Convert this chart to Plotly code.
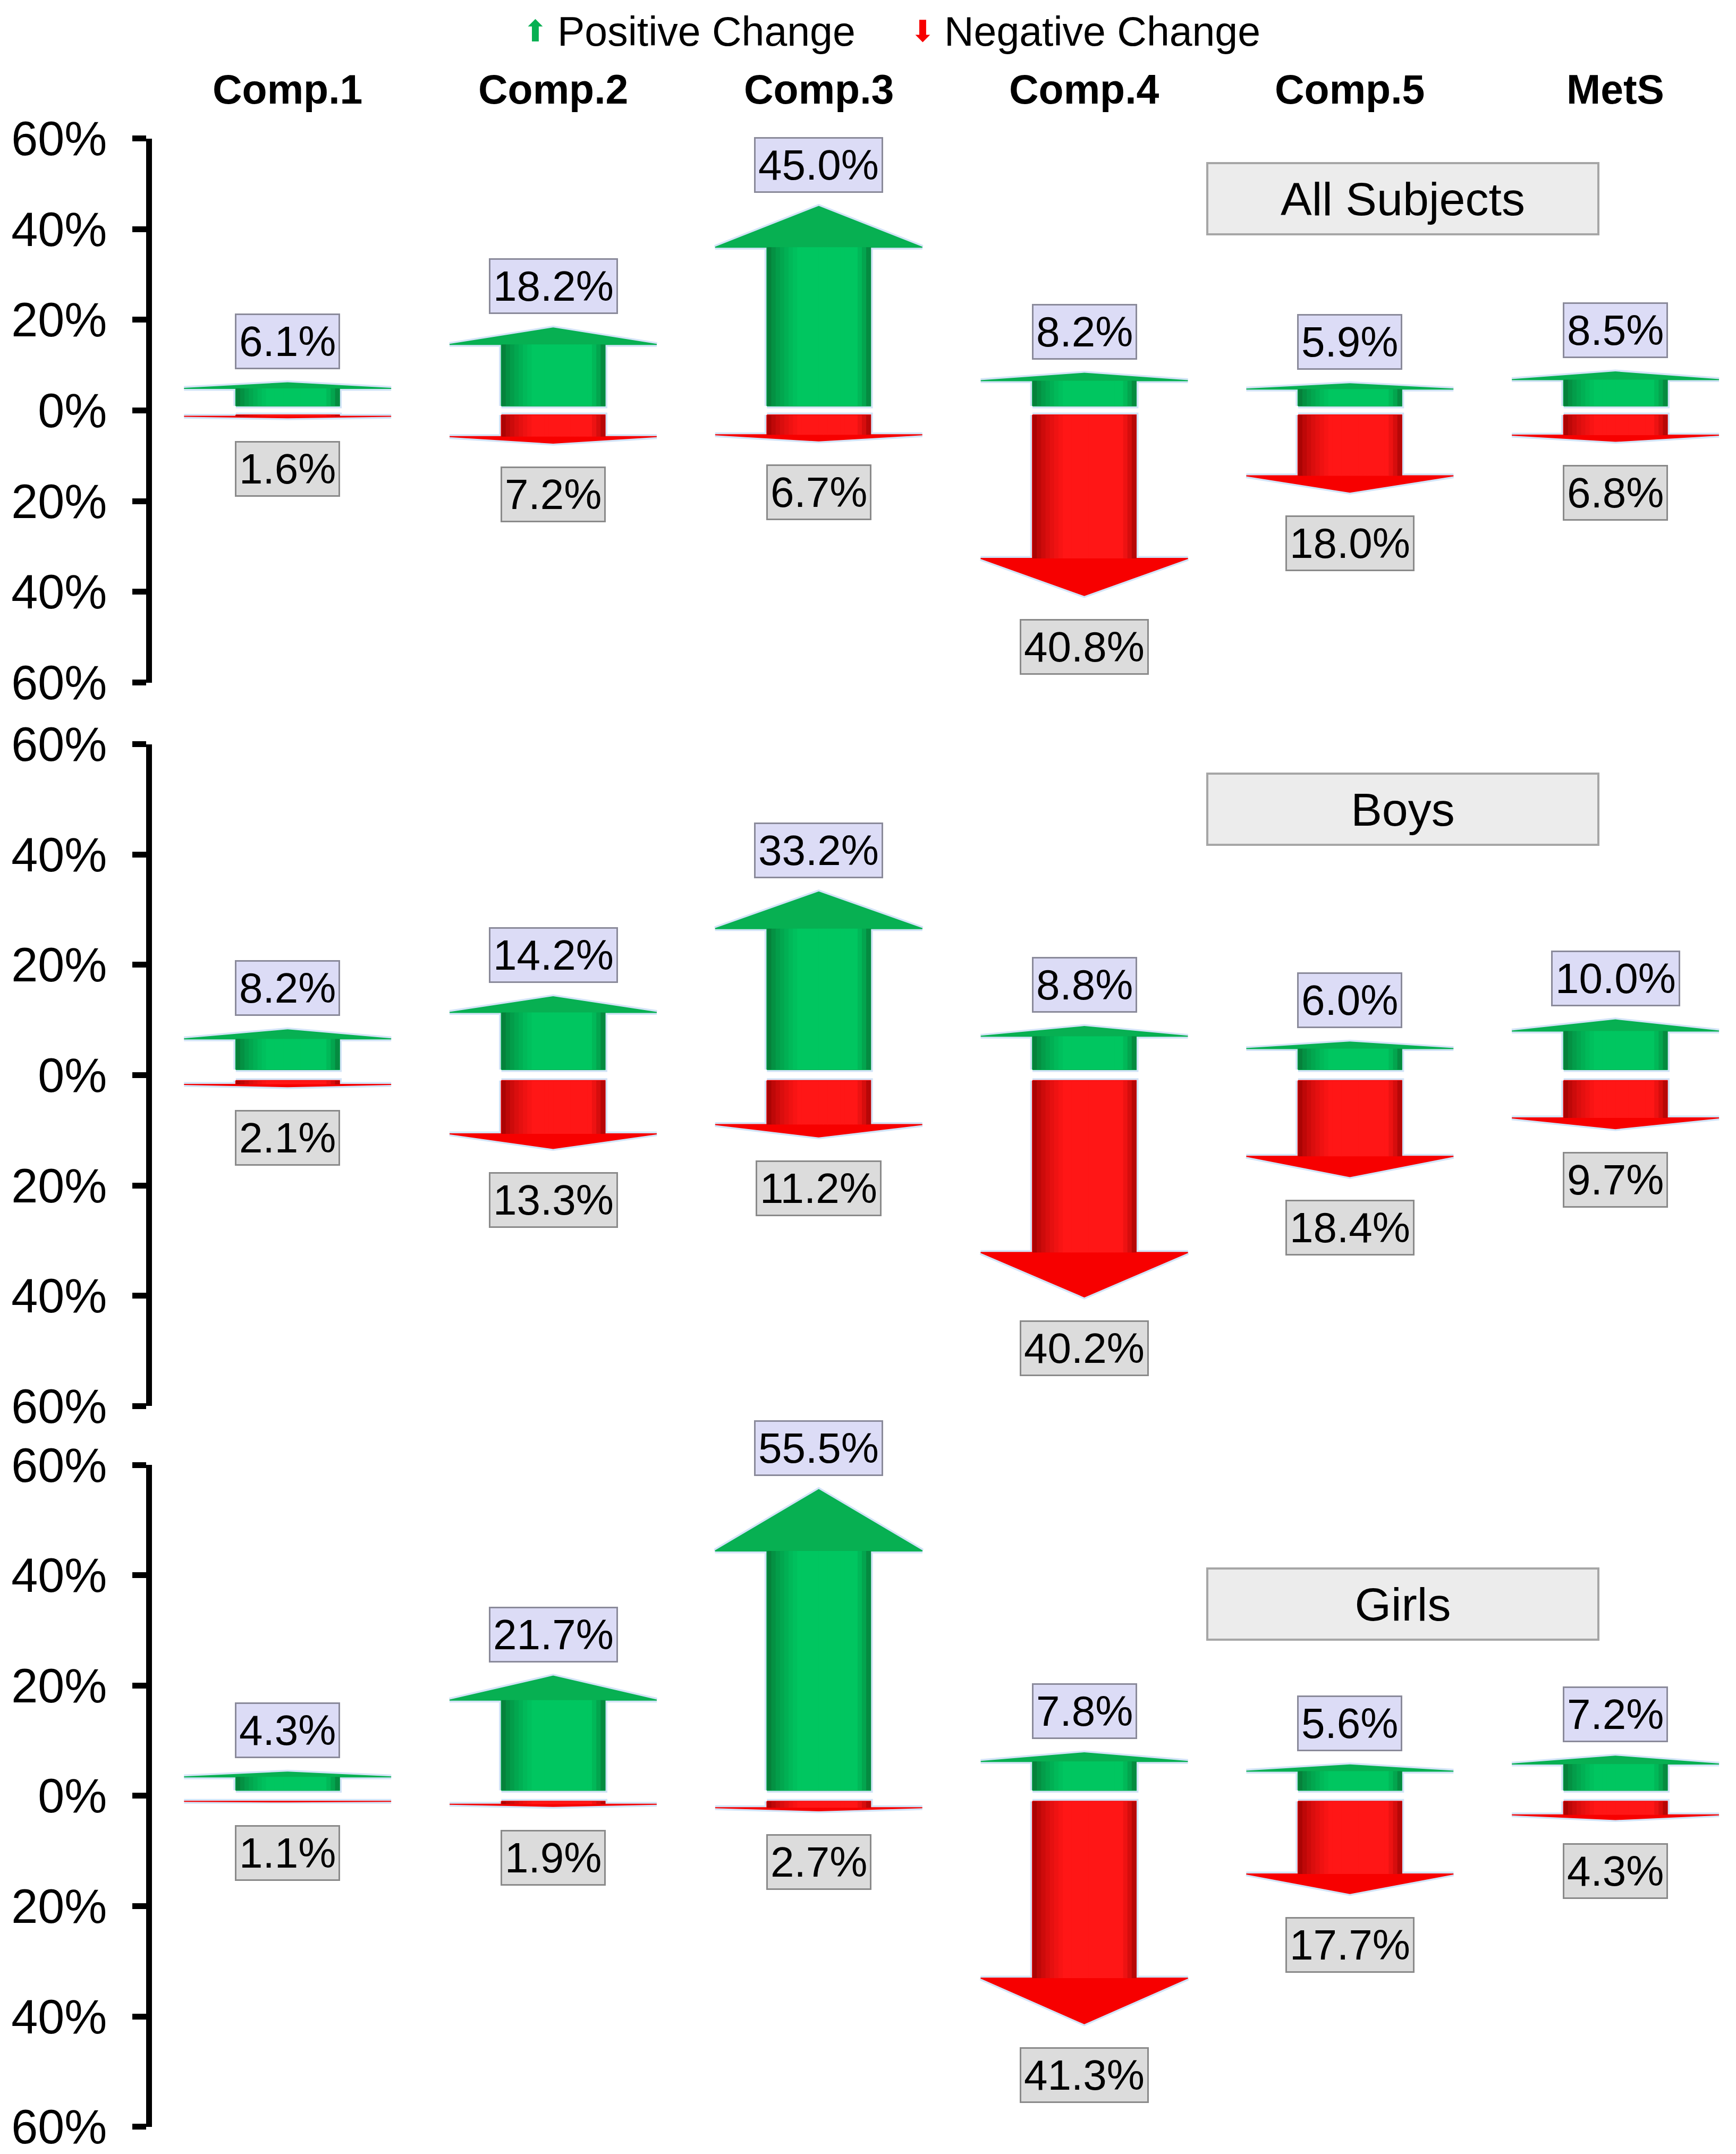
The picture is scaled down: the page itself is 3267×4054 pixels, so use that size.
import plotly.graph_objects as go

# data
categories = ["Comp.1", "Comp.2", "Comp.3", "Comp.4", "Comp.5", "MetS"]
groups = ["All Subjects", "Boys", "Girls"]

all_pos = [6.1, 18.2, 45.0, 8.2, 5.9, 8.5]
all_neg = [1.6, 7.2, 6.7, 40.8, 18.0, 6.8]
boys_pos = [8.2, 14.2, 33.2, 8.8, 6.0, 10.0]
boys_neg = [2.1, 13.3, 11.2, 40.2, 18.4, 9.7]
girls_pos = [4.3, 21.7, 55.5, 7.8, 5.6, 7.2]
girls_neg = [1.1, 1.9, 2.7, 41.3, 17.7, 4.3]

tick_vals = [-60, -40, -20, 0, 20, 40, 60]
tick_text = ["60%", "40%", "20%", "0%", "20%", "40%", "60%"]
legend_names = ["Positive Change", "Negative Change"]

positives = [all_pos, boys_pos, girls_pos]
negatives = [all_neg, boys_neg, girls_neg]

# layout / style
FONT = "Liberation Sans, Arial, sans-serif"
Y_DOMAINS = [[0.6851, 0.9377], [0.3492, 0.6565], [0.0146, 0.3219]]
X_DOMAIN = [0.0852, 1.0]
X_RANGE = [-0.51, 5.47]
PANEL_BOX_Y = [46.7, 48.2, 34.8]
LEGEND_X = [0.306, 0.529]
LEGEND_Y = 0.9875
GAP = 1.0          # white gap either side of zero
HEAD_FRAC = 0.2    # arrow head height as share of the value
SHAFT_W = 0.195
HEAD_W = 0.39
N_STRIPS = 24

GREEN = dict(main="#07b052", dark=(8, 112, 50), light=(0, 198, 96))
RED = dict(main="#f70000", dark=(150, 0, 0), light=(255, 22, 22))


def strip_color(dark, light, t):
    f = min(1.0, t / 0.3, (1 - t) / 0.14)
    f = max(0.0, f) ** 0.6
    c = [int(d + (l - d) * f) for d, l in zip(dark, light)]
    return "rgb(%d,%d,%d)" % tuple(c)


fig = go.Figure()


def add_arrow(xa, ya, c, v, sign, pal):
    base = sign * GAP
    tip = sign * v
    shaft_end = sign * max(GAP, v - HEAD_FRAC * v)
    xs = [c - SHAFT_W, c - SHAFT_W, c - HEAD_W, c, c + HEAD_W, c + SHAFT_W, c + SHAFT_W, c - SHAFT_W]
    ys = [base, shaft_end, shaft_end, tip, shaft_end, shaft_end, base, base]
    # soft glow
    fig.add_trace(go.Scatter(
        x=xs, y=ys, xaxis=xa, yaxis=ya, mode="lines", fill="toself",
        fillcolor=pal["main"], line=dict(color="rgba(175,205,240,0.55)", width=9),
        hoverinfo="skip", showlegend=False))
    fig.add_trace(go.Scatter(
        x=xs, y=ys, xaxis=xa, yaxis=ya, mode="lines", fill="toself",
        fillcolor=pal["main"], line=dict(color=pal["main"], width=2),
        hoverinfo="skip", showlegend=False))
    # fake gradient across the shaft
    w = 2 * SHAFT_W / N_STRIPS
    for i in range(N_STRIPS):
        x0 = c - SHAFT_W + i * w
        x1 = x0 + w * 1.1
        t = (i + 0.5) / N_STRIPS
        fig.add_trace(go.Scatter(
            x=[x0, x1, x1, x0, x0], y=[base, base, shaft_end, shaft_end, base],
            xaxis=xa, yaxis=ya, mode="lines", fill="toself",
            fillcolor=strip_color(pal["dark"], pal["light"], t),
            line=dict(width=0), hoverinfo="skip", showlegend=False))


annotations = []
layout_axes = {}

for p in range(3):
    n = "" if p == 0 else str(p + 1)
    xa, ya = "x" + n, "y" + n
    layout_axes["xaxis" + n] = dict(domain=X_DOMAIN, range=X_RANGE, visible=False,
                                    anchor=ya, fixedrange=True, automargin=False)
    layout_axes["yaxis" + n] = dict(
        domain=Y_DOMAINS[p], range=[-60, 60], anchor=xa, automargin=False,
        tickvals=tick_vals, ticktext=tick_text,
        showline=True, linecolor="black", linewidth=11,
        ticks="outside", ticklen=26, tickwidth=11, tickcolor="black",
        ticklabelstandoff=30,
        showgrid=False, zeroline=False,
        tickfont=dict(family=FONT, size=90, color="black"))

    for i, cat in enumerate(categories):
        vp = positives[p][i]
        vn = negatives[p][i]
        add_arrow(xa, ya, i, vp, 1, GREEN)
        add_arrow(xa, ya, i, vn, -1, RED)
        annotations.append(dict(
            x=i, y=vp, xref=xa, yref=ya, text="%.1f%%" % vp, showarrow=False,
            yanchor="bottom", yshift=26, bgcolor="#dcdcf6", bordercolor="#8a8a9a",
            borderwidth=3, borderpad=5, font=dict(family=FONT, size=80, color="black")))
        annotations.append(dict(
            x=i, y=-vn, xref=xa, yref=ya, text="%.1f%%" % vn, showarrow=False,
            yanchor="top", yshift=-44, bgcolor="#dcdcdc", bordercolor="#8a8a8a",
            borderwidth=3, borderpad=5, font=dict(family=FONT, size=80, color="black")))

    annotations.append(dict(
        x=4.2, y=PANEL_BOX_Y[p], xref=xa, yref=ya, text=groups[p], showarrow=False,
        xanchor="center", yanchor="middle",
        width=730, height=128, bgcolor="#ececec", bordercolor="#a6a6a6", borderwidth=4,
        font=dict(family=FONT, size=88, color="black")))

# column headers
for i, cat in enumerate(categories):
    annotations.append(dict(
        x=i, y=0.9606, xref="x", yref="paper", text="<b>%s</b>" % cat, showarrow=False,
        xanchor="center", yanchor="middle",
        font=dict(family=FONT, size=77, color="black")))

# legend (glyph + text)
for name, lx, glyph, col in zip(legend_names, LEGEND_X, ["⬆", "⬇"], [GREEN["main"], RED["main"]]):
    annotations.append(dict(
        x=lx, y=LEGEND_Y, xref="paper", yref="paper", text=glyph, showarrow=False,
        xanchor="center", yanchor="middle",
        font=dict(family="DejaVu Sans", size=56, color=col)))
    annotations.append(dict(
        x=lx + 0.012, y=LEGEND_Y, xref="paper", yref="paper", text=name, showarrow=False,
        xanchor="left", yanchor="middle",
        font=dict(family=FONT, size=77, color="black")))

fig.update_layout(
    width=3267, height=4054,
    margin=dict(l=0, r=0, t=0, b=0, autoexpand=False),
    paper_bgcolor="white", plot_bgcolor="white",
    showlegend=False,
    annotations=annotations,
    **layout_axes)

fig.write_html("out.html")
